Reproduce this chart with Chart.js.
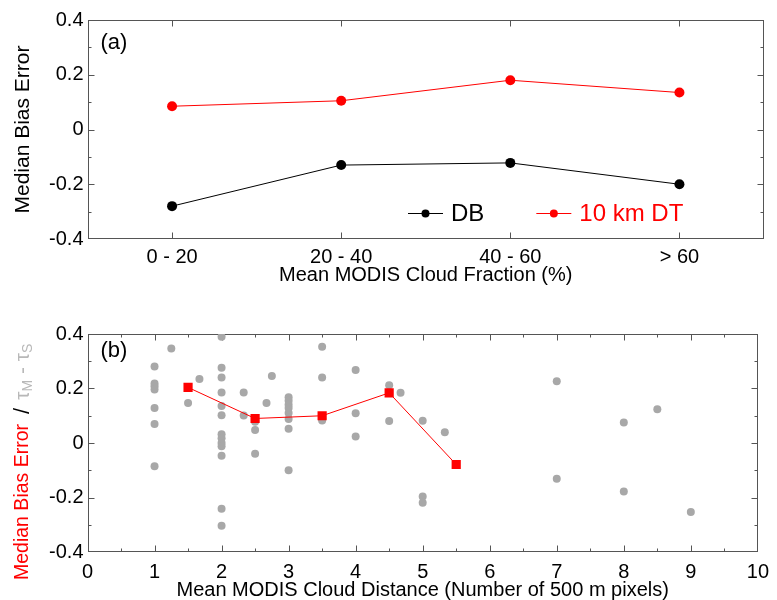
<!DOCTYPE html>
<html>
<head>
<meta charset="utf-8">
<script src="https://cdn.jsdelivr.net/npm/chart.js@4/dist/chart.umd.min.js"></script>
<style>
  body { margin: 0; background: #fff; }
  canvas { position: absolute; left: 0; }
  #chartA { top: 0; }
  #chartB { top: 300px; }
</style>
</head>
<body>
<canvas id="chartA" width="777" height="300"></canvas>
<canvas id="chartB" width="777" height="300"></canvas>
<script>
// (a) median bias error per cloud fraction bin
const fractionBins = ['0 - 20', '20 - 40', '40 - 60', '> 60'];
const dbBias = [-0.28, -0.13, -0.122, -0.2];
const dtBias = [0.085, 0.105, 0.18, 0.135];

// (b) median bias error per cloud distance
const medDistance = [1.5, 2.5, 3.5, 4.5, 5.5];
const medBias = [0.204, 0.09, 0.1, 0.184, -0.079];

// (b) individual tau_M - tau_S points
const pointDistance = [
  1, 1, 1, 1, 1, 1, 1,
  1.25, 1.5, 1.67,
  2, 2, 2, 2, 2, 2, 2, 2, 2, 2, 2, 2, 2,
  2.33, 2.33, 2.5, 2.5, 2.5, 2.67, 2.75,
  3, 3, 3, 3, 3, 3, 3, 3,
  3.5, 3.5, 3.5, 3.5,
  4, 4, 4, 4.5, 4.5, 4.67,
  5, 5, 5, 5.33,
  7, 7, 8, 8, 8.5, 9
];
const pointDiff = [
  0.281, 0.218, 0.208, 0.196, 0.128, 0.07, -0.085,
  0.347, 0.147, 0.235,
  0.39, 0.276, 0.24, 0.185, 0.136, 0.102, 0.032, 0.017, 0.0, -0.012, -0.047, -0.241, -0.304,
  0.185, 0.101, 0.078, 0.048, -0.039, 0.147, 0.246,
  0.168, 0.155, 0.14, 0.128, 0.11, 0.088, 0.052, -0.1,
  0.353, 0.24, 0.091, 0.083,
  0.268, 0.109, 0.024, 0.212, 0.081, 0.184,
  0.082, -0.196, -0.219, 0.039,
  0.227, -0.131, 0.075, -0.178, 0.124, -0.253
];

const FONT = '"Liberation Sans", Arial, sans-serif';
const FRAME = '#555';

// box round the plot area with inward tick marks
const frameTicks = {
  id: 'frameTicks',
  beforeDatasetsDraw(chart, args, opts) {
    const {ctx, chartArea: a, scales} = chart;
    const l = Math.round(a.left) + 0.5, r = Math.round(a.right) - 0.5;
    const t = Math.round(a.top) + 0.5, b = Math.round(a.bottom) - 0.5;
    ctx.save();
    ctx.strokeStyle = FRAME;
    ctx.lineWidth = 1;
    ctx.strokeRect(l, t, r - l, b - t);
    ctx.beginPath();
    opts.xMarks.forEach(([v, len]) => {
      const px = Math.round(scales.x.getPixelForValue(v)) + 0.5;
      ctx.moveTo(px, b); ctx.lineTo(px, b - len);
      ctx.moveTo(px, t); ctx.lineTo(px, t + len);
    });
    opts.yMarks.forEach(([v, len]) => {
      const py = Math.round(scales.y.getPixelForValue(v)) + 0.5;
      ctx.moveTo(l, py); ctx.lineTo(l + len, py);
      ctx.moveTo(r, py); ctx.lineTo(r - len, py);
    });
    ctx.stroke();
    ctx.restore();
  }
};

// panel letter
const panelTag = {
  id: 'panelTag',
  afterDraw(chart, args, opts) {
    const {ctx, chartArea: a} = chart;
    ctx.save();
    ctx.font = '22px ' + FONT;
    ctx.fillStyle = '#000';
    ctx.textBaseline = 'middle';
    ctx.fillText(opts.text, a.left + 13, a.top + opts.dy);
    ctx.restore();
  }
};

// legend inside the plot (a)
const innerLegend = {
  id: 'innerLegend',
  afterDraw(chart, args, opts) {
    if (!opts.show) return;
    const {ctx} = chart;
    ctx.save();
    ctx.font = '24px ' + FONT;
    ctx.textBaseline = 'middle';
    let x = opts.x;
    const y = opts.y;
    chart.data.datasets.forEach(ds => {
      ctx.strokeStyle = ds.borderColor;
      ctx.fillStyle = ds.borderColor;
      ctx.lineWidth = 1;
      ctx.beginPath();
      ctx.moveTo(x, y + 0.5); ctx.lineTo(x + 35, y + 0.5);
      ctx.stroke();
      ctx.beginPath();
      ctx.arc(x + 17.5, y + 0.5, 4, 0, Math.PI * 2);
      ctx.fill();
      ctx.fillText(ds.label, x + 43, y + 1);
      x += 43 + ctx.measureText(ds.label).width + 52;
    });
    ctx.restore();
  }
};

// multi-coloured y title for (b)
const mixedTitle = {
  id: 'mixedTitle',
  afterDraw(chart, args, opts) {
    if (!opts.parts) return;
    const {ctx} = chart;
    ctx.save();
    ctx.translate(opts.x, opts.y);
    ctx.rotate(-Math.PI / 2);
    ctx.textBaseline = 'middle';
    let x = 0;
    opts.parts.forEach(p => {
      x += p.pad || 0;
      ctx.font = p.size + 'px ' + FONT;
      ctx.fillStyle = p.color;
      ctx.fillText(p.text, x, p.dy || 0);
      x += ctx.measureText(p.text).width;
    });
    ctx.restore();
  }
};

Chart.register(frameTicks, panelTag, innerLegend, mixedTitle);

const yMarks = [];
for (let k = -3; k <= 3; k++) yMarks.push([k / 10, k % 2 === 0 ? 6 : 3]);

const tickFont = { family: FONT, size: 20 };
const titleFont = { family: FONT, size: 20 };

new Chart(document.getElementById('chartA'), {
  type: 'line',
  data: {
    labels: fractionBins,
    datasets: [{
      label: 'DB',
      data: dbBias,
      borderColor: '#000',
      backgroundColor: '#000',
      borderWidth: 1,
      pointRadius: 5,
      pointBorderWidth: 0,
      tension: 0
    }, {
      label: '10 km DT',
      data: dtBias,
      borderColor: '#ff0000',
      backgroundColor: '#ff0000',
      borderWidth: 1,
      pointRadius: 5,
      pointBorderWidth: 0,
      tension: 0
    }]
  },
  options: {
    responsive: false,
    animation: false,
    layout: { padding: { left: 0, right: 13, top: 20, bottom: 0 } },
    scales: {
      x: {
        offset: true,
        grid: { display: false, drawTicks: false },
        border: { display: false },
        ticks: { font: tickFont, color: '#000', padding: 6 },
        title: { display: true, text: 'Mean MODIS Cloud Fraction (%)', font: titleFont, color: '#000', padding: { top: 0, bottom: 13 } },
        afterFit: s => { s.height = 61; }
      },
      y: {
        min: -0.4,
        max: 0.4,
        grid: { display: false, drawTicks: false },
        border: { display: false },
        ticks: { stepSize: 0.2, font: tickFont, color: '#000', padding: 4 },
        title: { display: true, text: 'Median Bias Error', font: { family: FONT, size: 21 }, color: '#000', padding: { top: 11, bottom: 0 } },
        afterFit: s => { s.width = 87.5; }
      }
    },
    plugins: {
      legend: { display: false },
      tooltip: { enabled: false },
      frameTicks: { xMarks: fractionBins.map((c, i) => [i, 6]), yMarks: yMarks },
      panelTag: { text: '(a)', dy: 23 },
      innerLegend: { show: true, x: 408, y: 213 },
      mixedTitle: {}
    }
  }
});

const xMarksB = [];
for (let k = 1; k < 20; k++) xMarksB.push([k / 2, k % 2 === 0 ? 6 : 3]);

new Chart(document.getElementById('chartB'), {
  type: 'scatter',
  data: {
    datasets: [{
      type: 'line',
      label: 'Median Bias Error',
      data: medDistance.map((d, i) => ({ x: d, y: medBias[i] })),
      borderColor: '#ff0000',
      backgroundColor: '#ff0000',
      borderWidth: 1,
      pointStyle: 'rect',
      pointRadius: 6.5,
      pointBorderWidth: 0,
      tension: 0
    }, {
      label: 'tau_M - tau_S',
      data: pointDistance.map((d, i) => ({ x: d, y: pointDiff[i] })),
      backgroundColor: '#a8a8a8',
      borderWidth: 0,
      pointRadius: 4
    }]
  },
  options: {
    responsive: false,
    animation: false,
    layout: { padding: { left: 0, right: 13, top: 34, bottom: 0 } },
    scales: {
      x: {
        type: 'linear',
        min: 0,
        max: 10,
        grid: { display: false, drawTicks: false },
        border: { display: false },
        ticks: { stepSize: 1, font: tickFont, color: '#000', padding: 8 },
        title: { display: true, text: 'Mean MODIS Cloud Distance (Number of 500 m pixels)', font: { family: FONT, size: 20, lineHeight: 1 }, color: '#000', padding: { top: 0, bottom: 0 } },
        afterFit: s => { s.height = 48; }
      },
      y: {
        min: -0.4,
        max: 0.4,
        grid: { display: false, drawTicks: false },
        border: { display: false },
        ticks: { stepSize: 0.2, font: tickFont, color: '#000', padding: 4 },
        afterFit: s => { s.width = 87.5; }
      }
    },
    plugins: {
      legend: { display: false },
      tooltip: { enabled: false },
      frameTicks: { xMarks: xMarksB, yMarks: yMarks },
      panelTag: { text: '(b)', dy: 17 },
      innerLegend: { show: false },
      mixedTitle: {
        x: 23,
        y: 280,
        parts: [
          { text: 'Median Bias Error', color: '#ff0000', size: 19.5 },
          { text: '/', color: '#000', size: 22, pad: 10 },
          { text: 'τ', color: '#b8b8b8', size: 21, pad: 8 },
          { text: 'M', color: '#b8b8b8', size: 14, dy: 5 },
          { text: ' - ', color: '#b8b8b8', size: 21 },
          { text: 'τ', color: '#b8b8b8', size: 21 },
          { text: 'S', color: '#b8b8b8', size: 14, dy: 5 }
        ]
      }
    }
  }
});
</script>
</body>
</html>
